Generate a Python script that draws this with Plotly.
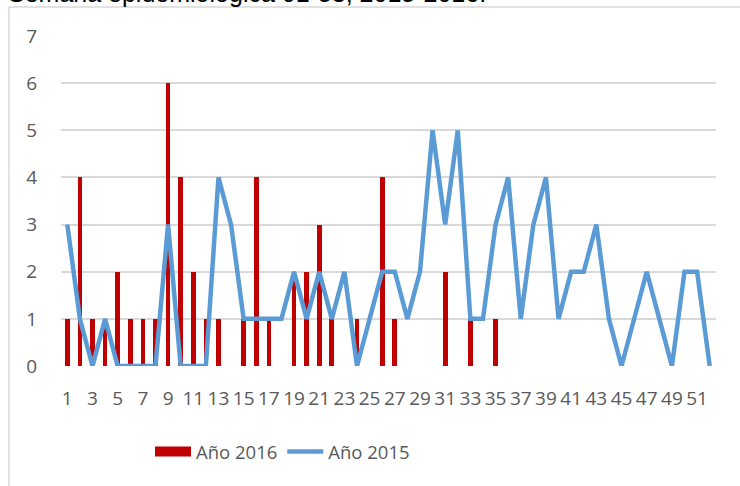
import plotly.graph_objects as go

weeks = [str(i) for i in range(1, 53)]
tick_labels = [str(i) for i in range(1, 53, 2)]

cases_2016 = [1, 4, 1, 1, 2, 1, 1, 1, 6, 4, 2, 1, 1, 0, 1, 4, 1, 0, 2, 2,
              3, 1, 0, 1, 0, 4, 1, 0, 0, 0, 2, 0, 1, 0, 1, 0, 0, 0, 0, 0,
              0, 0, 0, 0, 0, 0, 0, 0, 0, 0, 0, 0]
cases_2015 = [3, 1, 0, 1, 0, 0, 0, 0, 3, 0, 0, 0, 4, 3, 1, 1, 1, 1, 2, 1,
              2, 1, 2, 0, 1, 2, 2, 1, 2, 5, 3, 5, 1, 1, 3, 4, 1, 3, 4, 1,
              2, 2, 3, 1, 0, 1, 2, 1, 0, 2, 2, 0]

FONT = "Open Sans, sans-serif"
GRAY = "#595959"
RED = "#C00000"
BLUE = "#5B9BD5"

fig = go.Figure()
fig.add_trace(go.Bar(x=weeks, y=cases_2016, name="Año 2016", legendgroup="2016", showlegend=False,
                     marker=dict(color=RED, line=dict(width=0)), width=0.37))
# legend entry for the 2016 bars (wide red key, as in the original)
fig.add_trace(go.Scatter(x=[None], y=[None], name="Año 2016", legendgroup="2016", mode="lines",
                         line=dict(color=RED, width=14), hoverinfo="skip"))
fig.add_trace(go.Scatter(x=weeks, y=cases_2015, name="Año 2015", mode="lines",
                         line=dict(color=BLUE, width=4.5)))

L, R, T, B = 61, 24, 36, 120
W, H = 740, 486
pw, ph = W - L - R, H - T - B

def px_x(p):
    return (p - L) / pw

def px_y(p):
    return (H - B - p) / ph

fig.update_layout(
    width=W, height=H,
    margin=dict(l=L, r=R, t=T, b=B, autoexpand=False),
    paper_bgcolor="white", plot_bgcolor="white",
    font=dict(family=FONT, size=19, color=GRAY),
    showlegend=True,
    legend=dict(orientation="h", x=px_x(150), y=px_y(452), xanchor="left", yanchor="middle",
                font=dict(size=18.5, color=GRAY), itemwidth=36, traceorder="normal",
                bgcolor="rgba(0,0,0,0)"),
    xaxis=dict(type="category", tickmode="array", tickvals=tick_labels, ticktext=tick_labels,
               tickangle=0, showgrid=False, showline=False, zeroline=False, ticks="",
               ticklabelstandoff=19, range=[-0.5, 51.5], automargin=False),
    yaxis=dict(range=[0, 7], dtick=1, showgrid=True, gridcolor="#D9D9D9", gridwidth=1.5,
               zeroline=False, showline=False, ticks="", ticklabelstandoff=23, automargin=False),
    bargap=0,
    annotations=[dict(text="Semana epidemiológica 01-53, 2015-2016.", xref="paper", yref="paper",
                      x=px_x(6), y=px_y(9.5), xanchor="left", yanchor="bottom", showarrow=False,
                      font=dict(family="Liberation Sans, Arial, sans-serif", size=25, color="black"))],
    shapes=[
        dict(type="line", xref="paper", yref="paper", x0=px_x(9), x1=px_x(740), y0=px_y(7), y1=px_y(7),
             line=dict(color="#D9D9D9", width=1.5)),
        dict(type="line", xref="paper", yref="paper", x0=px_x(9), x1=px_x(9), y0=px_y(7), y1=px_y(486),
             line=dict(color="#D9D9D9", width=1.5)),
    ],
)

fig.write_html("out.html", config={"displayModeBar": False},
               post_script="document.body.style.margin='0px';")
